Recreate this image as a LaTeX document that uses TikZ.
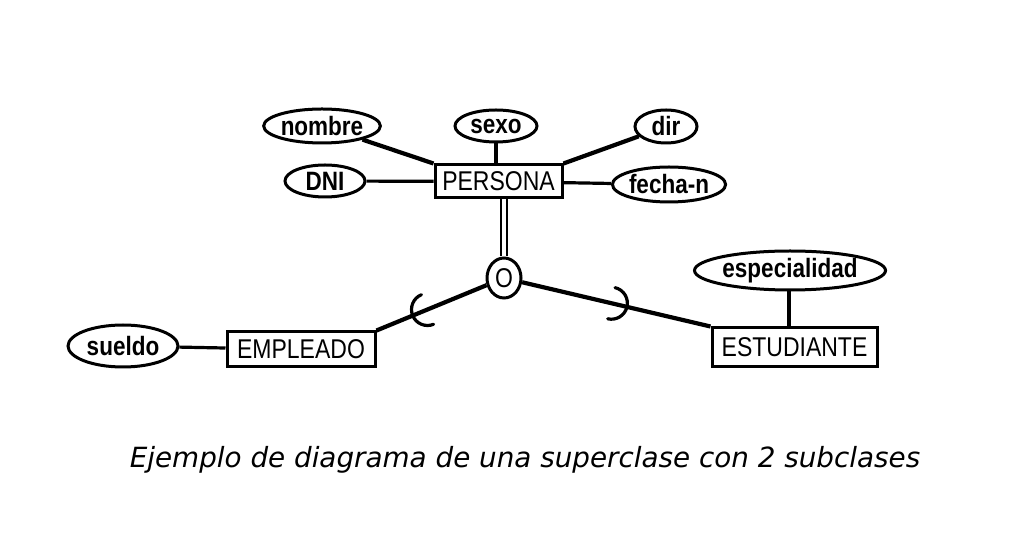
\documentclass[tikz,border=0pt]{standalone}
\usepackage{graphicx}
\usepackage{fontspec}
\setmainfont{Liberation Sans}
\newfontfamily\capfont{DejaVu Sans}
\usetikzlibrary{shapes.geometric,calc}
\newcommand{\tallt}[1]{\scalebox{1}[1.18]{#1}}
\begin{document}
\begin{tikzpicture}[x=1pt,y=1pt,
  attr/.style={ellipse, draw, line width=3pt, inner sep=0pt, font=\bfseries\fontsize{22.5}{24}\selectfont},
  ent/.style={rectangle, draw, line width=3pt, inner sep=0pt, font=\fontsize{23}{24}\selectfont},
  conn/.style={line width=4.2pt},
  thinconn/.style={line width=3.2pt},
  subarc/.style={line width=3.2pt, line cap=round}]
\fill[white] (0,0) rectangle (1024,535);
\useasboundingbox (0,0) rectangle (1024,535);

% entities
\node[ent, minimum width=127pt, minimum height=33pt] (persona) at (498.5,353.5) {\tallt{PERSONA}};
\node[ent, minimum width=148pt, minimum height=35pt] (empleado) at (301,185.5) {\tallt{EMPLEADO}};
\node[ent, minimum width=165pt, minimum height=39pt] (estudiante) at (794.5,187.5) {\tallt{ESTUDIANTE}};

% attributes
\node[attr, minimum width=114pt, minimum height=34pt] (nombre) at (322,409) {\tallt{nombre}};
\node[attr, minimum width=82pt, minimum height=32pt] (sexo) at (496,409) {\tallt{sexo}};
\node[attr, minimum width=62pt, minimum height=33pt] (dir) at (666,408.5) {\tallt{dir}};
\node[attr, minimum width=80pt, minimum height=32pt] (dni) at (325,354) {\tallt{DNI}};
\node[attr, minimum width=112pt, minimum height=35pt] (fecha) at (669,350.5) {\tallt{fecha-n}};
\node[attr, minimum width=110pt, minimum height=42pt] (sueldo) at (123,189) {\tallt{sueldo}};
\node[attr, minimum width=170pt, minimum height=39pt] (espec) at (790,264.5) {\tallt{especialidad}};

% disjointness circle
\node[ellipse, draw, line width=3pt, inner sep=0pt, minimum width=34pt, minimum height=40pt,
      font=\fontsize{23}{24}\selectfont] (o) at (504,257) {\tallt{O}};

% attribute connectors
\draw[conn] (nombre) -- (persona.north west);
\draw[thinconn] (sexo) -- (sexo |- persona.north);
\draw[conn] (dir) -- (persona.north east);
\draw[thinconn] (dni) -- (persona);
\draw[thinconn] (fecha) -- (persona);
\draw[thinconn] (sueldo) -- (empleado);
\draw[thinconn] (espec.south -| 789,0) -- (789,0 |- estudiante.north);

% superclass double line
\draw[line width=2.2pt, double=white, double distance=4pt] (o.north |- persona.south) -- (o.north);

% subclass connectors
\draw[conn] (o) -- (empleado.north east);
\draw[conn] (o) -- (estudiante.north west);

% subset symbols
\coordinate (pl) at ($(o)!0.60!(empleado.north east)$);
\coordinate (pr) at ($(o)!0.52!(estudiante.north west)$);
\draw[subarc] (pl) ++(112.3:16) arc[start angle=112.3, end angle=292.3, radius=16];
\draw[subarc] (pr) ++(-103.3:16) arc[start angle=-103.3, end angle=76.7, radius=16];

% caption
\node[font=\capfont\itshape\fontsize{27.8}{30}\selectfont] (cap) at (525,75) {Ejemplo de diagrama de una superclase con 2 subclases};
\end{tikzpicture}
\end{document}
